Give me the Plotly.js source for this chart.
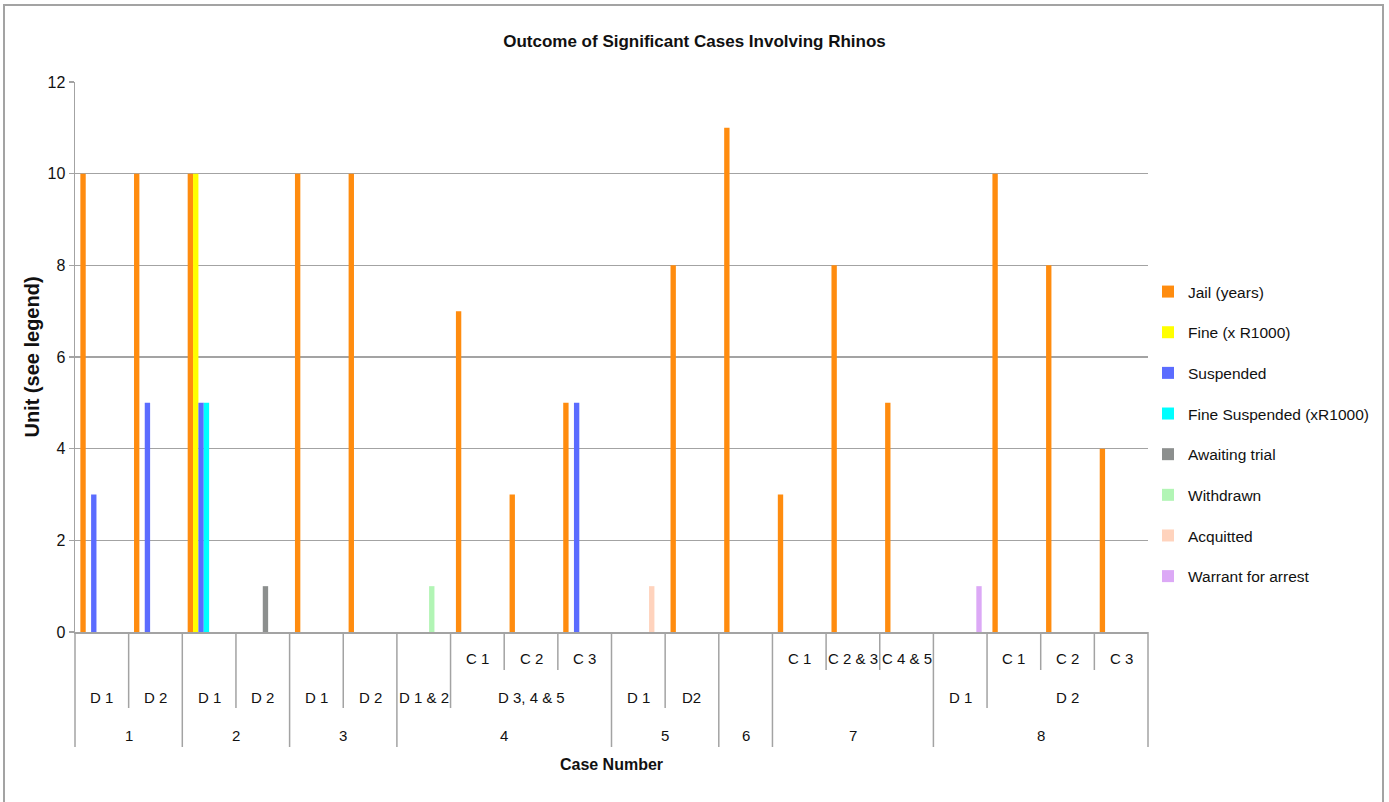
<!DOCTYPE html>
<html>
<head>
<meta charset="utf-8">
<script src="https://cdn.plot.ly/plotly-3.0.1.min.js"></script>
<style>
  html, body { margin: 0; padding: 0; background: #ffffff; overflow: hidden; }
  #chart { position: absolute; left: 0; top: 0; width: 1389px; height: 802px; }
  #frame { position: absolute; left: 3px; top: 4px; width: 1377px; height: 820px;
           border: 2px solid #a3a3a3; pointer-events: none; }
</style>
</head>
<body>
<div id="chart"></div>
<div id="frame"></div>
<script>
// Category hierarchy, one entry per column (case -> defendants -> counts)
const caseNumbers = ['1','1','2','2','3','3','4','4','4','4','5','5','6','7','7','7','8','8','8','8'];
const defendants  = ['D 1','D 2','D 1','D 2','D 1','D 2','D 1 & 2','D 3, 4 & 5','D 3, 4 & 5','D 3, 4 & 5',
                     'D 1','D2','','','','','D 1','D 2','D 2','D 2'];
const counts      = ['','','','','','','','C 1','C 2','C 3','','','','C 1','C 2 & 3','C 4 & 5','','C 1','C 2','C 3'];

// Outcome series (null = no bar)
const jail          = [10, 10, 10, null, 10, 10, null, 7, 3, 5, null, 8, 11, 3, 8, 5, null, 10, 8, 4];
const fine          = [null, null, 10, null, null, null, null, null, null, null, null, null, null, null, null, null, null, null, null, null];
const suspended     = [3, 5, 5, null, null, null, null, null, null, 5, null, null, null, null, null, null, null, null, null, null];
const fineSuspended = [null, null, 5, null, null, null, null, null, null, null, null, null, null, null, null, null, null, null, null, null];
const awaitingTrial = [null, null, null, 1, null, null, null, null, null, null, null, null, null, null, null, null, null, null, null, null];
const withdrawn     = [null, null, null, null, null, null, 1, null, null, null, null, null, null, null, null, null, null, null, null, null];
const acquitted     = [null, null, null, null, null, null, null, null, null, null, 1, null, null, null, null, null, null, null, null, null];
const warrant       = [null, null, null, null, null, null, null, null, null, null, null, null, null, null, null, null, 1, null, null, null];

const seriesNames  = ['Jail (years)', 'Fine (x R1000)', 'Suspended', 'Fine Suspended (xR1000)',
                      'Awaiting trial', 'Withdrawn', 'Acquitted', 'Warrant for arrest'];
const seriesValues = [jail, fine, suspended, fineSuspended, awaitingTrial, withdrawn, acquitted, warrant];
const seriesColors = ['#ff8c0f', '#ffff00', '#5b6cff', '#00ffff', '#8c8f8e', '#b2f5b5', '#ffd3bd', '#dca9f6'];

const yTicks = [0, 2, 4, 6, 8, 10, 12];

const FONT = 'Liberation Sans, Arial, sans-serif';
const GRID = '#a3a3a3';
const INK = '#111111';

const xIndex = caseNumbers.map((_, i) => i);

const traces = seriesValues.map((vals, k) => ({
  type: 'bar',
  name: seriesNames[k],
  legendgroup: 'g' + k,
  x: xIndex,
  y: vals,
  marker: { color: seriesColors[k], line: { width: 0 } },
  hoverinfo: 'name+y'
}));

// Merge consecutive equal labels that share the same parent key
function spans(labels, parentKey) {
  const out = [];
  labels.forEach((lab, i) => {
    const last = out[out.length - 1];
    if (last && last.label === lab && parentKey(i) === parentKey(last.start)) last.end = i;
    else out.push({ label: lab, start: i, end: i });
  });
  return out;
}

const rowCases = spans(caseNumbers, () => '');
const rowDefs = spans(defendants, i => caseNumbers[i]);
const rowCounts = spans(counts, i => caseNumbers[i] + '|' + defendants[i]);

// Pixel depth of each table row below the category axis
const ROW_BOTTOM = [-38, -76, -115];
const ROW_TEXT = [-26, -65, -103];

const labelFont = { family: FONT, size: 15, color: INK };
const annotations = [];
[rowCounts, rowDefs, rowCases].forEach((row, r) => {
  row.forEach(s => {
    if (!s.label) return;
    annotations.push({
      x: (s.start + s.end) / 2, xref: 'x',
      y: 0, yref: 'paper', yshift: ROW_TEXT[r],
      text: s.label, showarrow: false,
      xanchor: 'center', yanchor: 'middle',
      font: labelFont
    });
  });
});

// Vertical separators of the category table
const shapes = [];
function vline(xref, x, depth) {
  shapes.push({
    type: 'line', xref: xref, x0: x, x1: x,
    yref: 'paper', ysizemode: 'pixel', yanchor: 0, y0: 0, y1: depth,
    line: { color: GRID, width: 1.5 }
  });
}
vline('x domain', 0, ROW_BOTTOM[2]);
vline('x domain', 1, ROW_BOTTOM[2]);
for (let i = 1; i < caseNumbers.length; i++) {
  let depth = null;
  if (caseNumbers[i] !== caseNumbers[i - 1]) depth = ROW_BOTTOM[2];
  else if (defendants[i] !== defendants[i - 1]) depth = ROW_BOTTOM[1];
  else if (counts[i] !== counts[i - 1]) depth = ROW_BOTTOM[0];
  if (depth !== null) vline('x', i - 0.5, depth);
}

const layout = {
  width: 1389, height: 802,
  margin: { l: 75, r: 241, t: 82, b: 170 },
  paper_bgcolor: '#ffffff', plot_bgcolor: '#ffffff',
  barmode: 'group', bargap: 0.2, bargroupgap: 0,
  title: {
    text: 'Outcome of Significant Cases Involving Rhinos',
    font: { family: FONT, size: 17, weight: 'bold', color: INK },
    x: 0.5, xref: 'container', xanchor: 'center',
    y: 1 - 41 / 802, yref: 'container', yanchor: 'middle'
  },
  xaxis: {
    type: 'linear', range: [-0.5, caseNumbers.length - 0.5],
    showticklabels: false, ticks: '', showgrid: false, zeroline: false,
    showline: true, linecolor: GRID, linewidth: 1.5,
    fixedrange: true,
    title: {
      text: 'Case Number', standoff: 126,
      font: { family: FONT, size: 16, weight: 'bold', color: INK }
    }
  },
  yaxis: {
    range: [0, 12], tickvals: yTicks, ticktext: yTicks.map(String),
    ticks: 'outside', ticklen: 5, tickcolor: GRID, tickwidth: 1.5,
    showgrid: true, gridcolor: GRID, gridwidth: 1.5,
    zeroline: false, showline: true, linecolor: GRID, linewidth: 1.5,
    tickfont: { family: FONT, size: 16, color: INK },
    fixedrange: true,
    title: {
      text: 'Unit (see legend)', standoff: 2,
      font: { family: FONT, size: 20, weight: 'bold', color: INK }
    }
  },
  showlegend: true,
  legend: {
    x: (1148 - 75) / 1073, xanchor: 'left',
    y: (632 - 275) / 550, yanchor: 'top',
    bgcolor: 'rgba(0,0,0,0)', borderwidth: 0,
    tracegroupgap: 17.5, traceorder: 'grouped',
    font: { family: FONT, size: 15.5, color: INK }
  },
  annotations: annotations,
  shapes: shapes
};

Plotly.newPlot('chart', traces, layout, { staticPlot: true, displayModeBar: false });
</script>
</body>
</html>
